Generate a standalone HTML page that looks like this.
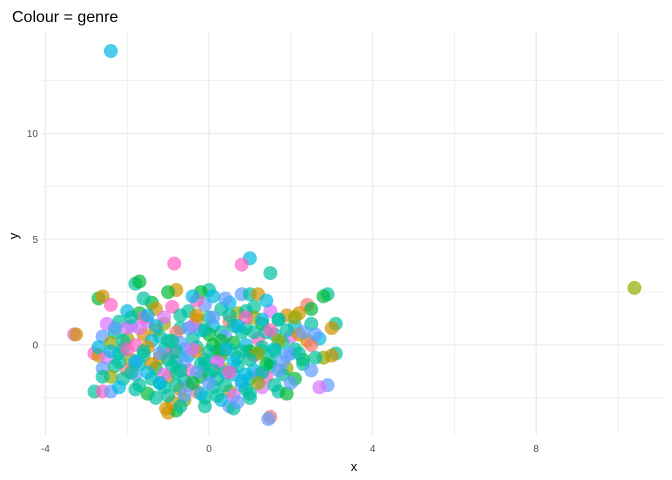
<!DOCTYPE html>
<html><head><meta charset="utf-8"><style>
html,body{margin:0;padding:0;background:#fff}
svg{display:block;font-family:"Liberation Sans",sans-serif}
</style></head><body>
<svg id="chart" width="672" height="480">
<text x="12" y="22" font-size="16" fill="#000">Colour = genre</text>
<text x="354" y="471" font-size="13" fill="#000" text-anchor="middle">x</text>
<text x="18" y="236" font-size="13" fill="#000" text-anchor="middle" transform="rotate(-90 18 236)">y</text>
<g id="grid"></g>
<g id="points"></g>
<g id="ticks"></g>
</svg>
<script>
const palette=["#F8766D","#D39200","#93AA00","#00BA38","#00C19F","#00B9E3","#619CFF","#DB72FB","#FF61C3"];
const xMajor=[-4,0,4,8];
const xMinor=[-2,2,6,10];
const yMajor=[0,5,10];
const yMinor=[-2.5,2.5,7.5,12.5];
const xTickLabels=["-4","0","4","8"];
const yTickLabels=["0","5","10"];
const xs=[-2.4,10.4,-0.85,1.0,0.8,1.5,-1.8,-1.7,-2.7,-2.6,-2.4,-3.3,-3.25,-2.8,-2.7,-2.8,-2.6,-2.4,-1.0,-0.8,-1.05,0.5,0.6,1.5,1.45,2.9,2.7,3.1,3.0,2.8,2.9,2.8,2.4,2.5,3.1,3.0,-0.8,-1.0,0.0,-0.2,0.8,1.0,1.2,-1.4,2.2,
-2.0,-1.7,-1.3,-0.9,-0.5,-0.1,0.3,0.7,1.1,1.5,1.9,-0.3,0.5,
-2.5,-2.2,-1.9,-1.5,-1.1,-0.7,-0.3,0.1,0.5,0.9,1.3,1.7,2.1,2.5,-1.3,0.3,1.1,
-2.6,-2.3,-2.0,-1.6,-1.2,-0.8,-0.4,0.0,0.4,0.8,1.2,1.6,2.0,2.4,2.7,-1.4,0.6,1.8,
-2.7,-2.4,-2.1,-1.8,-1.5,-1.1,-0.7,-0.3,0.1,0.5,0.9,1.3,1.7,2.1,2.5,-0.9,0.3,
-2.5,-2.2,-1.9,-1.6,-1.2,-0.8,-0.5,-0.1,0.3,0.7,1.1,1.5,1.9,2.3,2.6,-0.3,1.3,
-2.6,-2.3,-2.0,-1.7,-1.3,-0.9,-0.5,-0.1,0.3,0.7,1.1,1.5,1.9,2.3,2.5,0.0,
-2.4,-2.1,-1.8,-1.4,-1.0,-0.6,-0.2,0.2,0.6,1.0,1.4,1.8,2.1,-1.2,0.8,
-2.2,-1.8,-1.5,-1.1,-0.7,-0.3,0.1,0.5,0.9,1.3,1.7,1.9,-0.1,-0.6,1.0,0.3,-1.3,-0.9,
-1.0,-0.6,-0.2,0.2,0.6,1.0,1.4,-1.6,-1.8,0.4,0.0,-0.4,0.9,1.2,-0.8,1.6,2.2,-2.0,0.2,-0.5,
-2.3,-1.9,-1.5,-1.1,-0.7,-0.3,0.1,0.5,0.9,1.3,1.7,2.1,-2.1,-1.7,-1.3,-0.9,-0.5,-0.1,0.3,0.7,1.1,1.5,1.9,2.3,
-2.4,-2.0,-1.6,-1.2,-0.8,-0.4,0.0,0.4,0.8,1.2,1.6,2.0,-2.2,-1.8,-1.4,-1.0,-0.6,-0.2,0.2,0.6,1.0,1.4,1.8,2.2,
-1.9,-1.5,-1.1,-0.7,-0.3,0.1,0.5,0.9,1.3,1.7,-1.7,-1.2,-0.8,-0.4,0.0,0.4,0.8,1.2,1.6,2.0,
-1.0,-0.6,-0.2,0.2,0.6,1.0,-0.4,0.4,-1.6,1.4,2.6,-2.6,0.1,-0.1,0.7,-0.7];
const ys=[13.9,2.7,3.85,4.1,3.8,3.4,2.9,3.0,2.2,2.3,1.9,0.5,0.5,-0.4,-0.5,-2.2,-2.2,-2.2,-3.2,-3.1,-3.0,-2.9,-3.0,-3.4,-3.5,-1.9,-2.0,-0.4,-0.5,-0.6,2.4,2.3,1.9,1.7,1.0,0.8,2.6,2.5,2.6,2.5,2.4,2.4,2.4,2.0,1.5,
1.6,1.5,1.7,1.8,1.6,1.9,1.7,1.5,1.8,1.6,1.4,2.1,2.0,
1.0,1.1,0.9,1.1,1.0,0.8,1.2,0.9,1.1,0.8,1.0,1.2,0.9,1.0,0.7,0.6,1.3,
0.4,0.6,0.3,0.5,0.4,0.6,0.3,0.5,0.4,0.6,0.3,0.5,0.4,0.2,0.3,0.2,0.1,0.1,
-0.1,0.1,-0.2,0.0,-0.1,-0.2,0.1,-0.1,0.0,-0.2,0.0,-0.1,0.2,-0.2,0.0,-0.4,-0.5,
-0.6,-0.4,-0.7,-0.5,-0.6,-0.8,-0.5,-0.7,-0.4,-0.6,-0.5,-0.8,-0.5,-0.7,-0.6,-0.3,-0.3,
-1.1,-1.0,-1.2,-0.9,-1.1,-1.0,-1.2,-0.9,-1.1,-1.0,-1.2,-1.0,-1.1,-0.9,-1.2,-1.4,
-1.5,-1.6,-1.4,-1.6,-1.5,-1.7,-1.5,-1.6,-1.4,-1.6,-1.5,-1.4,-1.6,-1.8,-1.9,
-2.0,-2.1,-2.3,-2.0,-2.1,-2.2,-2.0,-2.2,-2.1,-2.0,-2.2,-2.3,-2.5,-2.6,-2.5,-2.6,-2.5,-2.7,
0.2,-0.2,0.7,-0.8,0.9,-0.3,0.6,1.3,-0.8,-1.3,1.3,0.9,1.6,-1.4,-1.3,-0.2,0.5,0.8,-0.3,-1.9,
0.8,1.3,1.4,1.3,1.4,1.4,1.3,1.4,1.3,1.2,1.2,1.3,0.2,0.8,0.9,0.2,0.8,0.7,0.2,0.9,0.6,0.7,0.7,0.6,
-0.3,-0.2,-0.3,-0.4,-0.3,-0.2,-0.3,-0.2,-0.3,-0.4,-0.3,-0.4,-0.8,-0.8,-0.9,-0.7,-0.8,-0.9,-0.8,-0.8,-0.7,-0.9,-0.8,-0.4,
-1.3,-1.3,-1.4,-1.2,-1.3,-1.2,-1.3,-1.4,-1.3,-1.2,-1.9,-1.8,-1.9,-1.8,-1.8,-1.9,-1.7,-1.8,-1.9,-1.8,
-2.4,-2.4,-2.3,-2.4,-2.4,-2.3,2.3,2.2,2.2,2.1,0.5,-1.5,2.3,-2.9,-2.7,-2.9];
const genre=[5,2,8,5,8,4,4,3,3,1,8,7,1,8,1,4,8,6,1,3,1,6,4,0,6,6,7,4,1,2,4,3,0,3,4,1,1,3,4,3,6,4,1,3,1,
5,3,1,8,4,6,4,2,4,7,1,8,5,
7,4,6,7,2,4,1,5,0,4,3,4,5,4,1,4,2,
6,4,2,1,4,0,4,3,6,4,8,4,7,1,5,5,3,4,
5,2,4,8,1,4,6,4,3,4,5,4,2,4,0,8,4,
7,4,2,4,1,4,5,4,2,4,8,4,6,3,4,1,4,
6,4,0,4,3,4,8,4,1,4,5,4,2,4,6,4,
2,4,6,4,1,4,3,4,5,4,8,4,3,4,6,
5,4,3,4,1,0,4,2,4,7,4,3,4,2,4,5,4,1,
4,6,5,7,4,3,4,8,6,5,4,7,4,6,4,5,1,7,3,6,
6,4,5,7,4,1,6,4,8,5,4,2,4,7,5,4,6,4,3,5,4,8,4,6,
5,8,4,6,4,7,4,5,4,2,4,6,4,5,1,4,6,4,7,5,4,3,6,4,
4,5,7,4,6,4,8,5,4,6,4,5,4,3,6,4,5,2,4,6,
4,6,5,4,7,4,5,6,4,5,6,4,5,4,6,4];
const L=42,R=665,T=32,B=435;
function sx(v){return 209+v*40.9;}
function sy(v){return 345-v*21.15;}
const NS="http://www.w3.org/2000/svg";
const grid=document.getElementById('grid'),pts=document.getElementById('points'),tk=document.getElementById('ticks');
function line(x1,y1,x2,y2,w,name){const l=document.createElementNS(NS,'line');l.setAttribute('x1',x1);l.setAttribute('y1',y1);l.setAttribute('x2',x2);l.setAttribute('y2',y2);l.setAttribute('stroke','#ebebeb');l.setAttribute('stroke-width',w);


grid.appendChild(l);}
xMinor.forEach(v=>{if(sx(v)<=R)line(sx(v),T,sx(v),B,0.8,'x-minor-gridline');});
yMinor.forEach(v=>{if(sy(v)>=T)line(L,sy(v),R,sy(v),0.8,'y-minor-gridline');});
xMajor.forEach(v=>line(sx(v),T,sx(v),B,1.3,'x-major-gridline'));
yMajor.forEach(v=>line(L,sy(v),R,sy(v),1.3,'y-major-gridline'));
xMajor.forEach((v,i)=>{const t=document.createElementNS(NS,'text');t.setAttribute('x',sx(v));t.setAttribute('y',452);t.setAttribute('font-size','10');t.setAttribute('fill','#4d4d4d');t.setAttribute('text-anchor','middle');t.textContent=xTickLabels[i];


tk.appendChild(t);});
yMajor.forEach((v,i)=>{const t=document.createElementNS(NS,'text');t.setAttribute('x',38);t.setAttribute('y',sy(v)+3.5);t.setAttribute('font-size','10');t.setAttribute('fill','#4d4d4d');t.setAttribute('text-anchor','end');t.textContent=yTickLabels[i];


tk.appendChild(t);});
xs.forEach((x,i)=>{const c=document.createElementNS(NS,'circle');c.setAttribute('cx',sx(x));c.setAttribute('cy',sy(ys[i]));c.setAttribute('r',7);c.setAttribute('fill',palette[genre[i]]);c.setAttribute('fill-opacity','0.7');


pts.appendChild(c);});
</script>
</body></html>
